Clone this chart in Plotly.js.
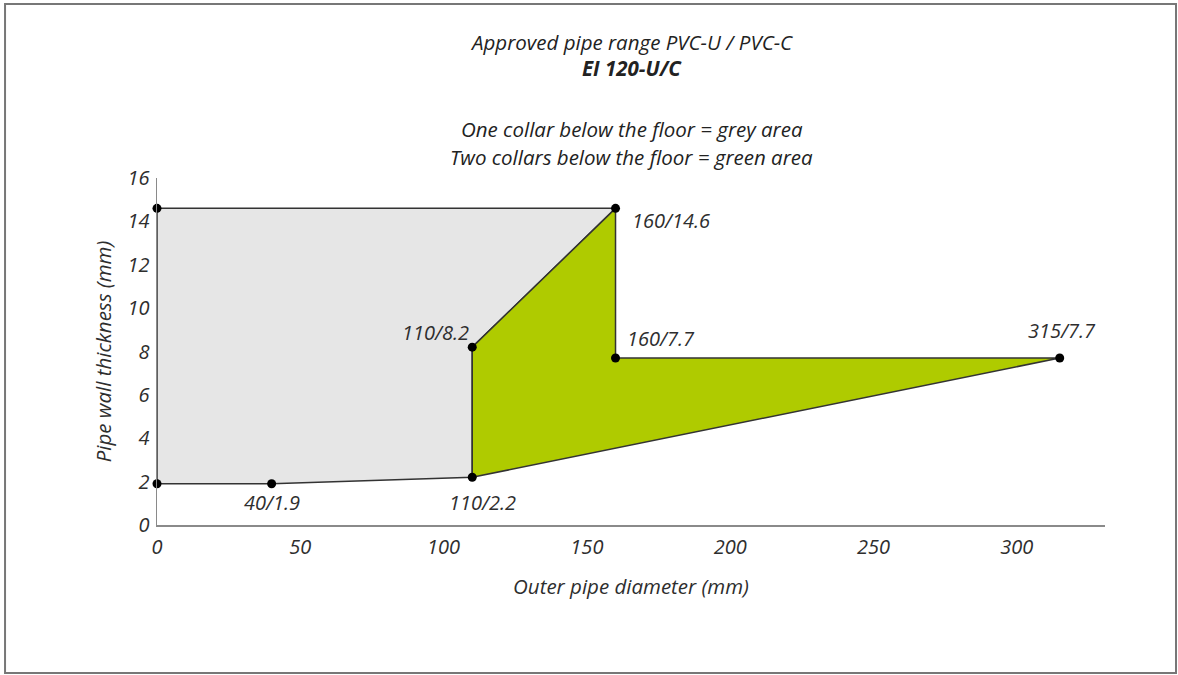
<!DOCTYPE html>
<html>
<head>
<meta charset="utf-8">
<script src="https://cdn.plot.ly/plotly-3.0.1.min.js"></script>
<style>html,body{margin:0;padding:0;background:#fff;}#chart{width:1178px;height:675px;}</style>
</head>
<body>
<div id="chart"></div>
<script>
// Grey area (one collar) outline
const greyX = [0, 40, 110, 110, 160, 0, 0];
const greyY = [1.9, 1.9, 2.2, 8.2, 14.6, 14.6, 1.9];
// Green area (two collars) outline
const greenX = [110, 110, 160, 160, 315, 110];
const greenY = [2.2, 8.2, 14.6, 7.7, 7.7, 2.2];
// Marked points
const ptX = [0, 0, 40, 110, 110, 160, 160, 315];
const ptY = [14.6, 1.9, 1.9, 2.2, 8.2, 14.6, 7.7, 7.7];
// Labelled points
const labX = [160, 110, 160, 315, 40, 110];
const labY = [14.6, 8.2, 7.7, 7.7, 1.9, 2.2];
const xTicks = [0, 50, 100, 150, 200, 250, 300];
const yTicks = [0, 2, 4, 6, 8, 10, 12, 14, 16];
const titleLines = [
  "Approved pipe range PVC-U / PVC-C",
  "<b>EI 120-U/C</b>",
  "One collar below the floor = grey area",
  "Two collars below the floor = green area"
];

const FONT = "Open Sans, Noto Sans, sans-serif";
const TXT = "#2e2e2e";
const lineCol = "#333333";
const FS = 20;

const traces = [
  {x: greyX, y: greyY, mode: "lines", fill: "toself", fillcolor: "#e6e6e6",
   line: {color: lineCol, width: 1.5}, hoverinfo: "skip", showlegend: false},
  {x: greenX, y: greenY, mode: "lines", fill: "toself", fillcolor: "#afcb00",
   line: {color: lineCol, width: 1.5}, hoverinfo: "skip", showlegend: false},
  {x: ptX, y: ptY, mode: "markers", marker: {color: "#000", size: 9},
   cliponaxis: false, showlegend: false}
];

// label offsets (pixel shifts) per labelled point
const labStyle = [
  {xanchor: "left", xshift: 14, yshift: -12},
  {xanchor: "right", xshift: -1, yshift: 15},
  {xanchor: "left", xshift: 9, yshift: 20},
  {xanchor: "center", xshift: 2, yshift: 28},
  {xanchor: "center", xshift: 0, yshift: -19},
  {xanchor: "center", xshift: 10, yshift: -25}
];
const annotations = labX.map((x, i) => Object.assign({
  x: x, y: labY[i], xref: "x", yref: "y", text: x + "/" + labY[i],
  showarrow: false, yanchor: "middle",
  font: {family: FONT, size: FS, color: TXT, style: "italic"}
}, labStyle[i]));

const titleY = [1.392, 1.317, 1.141, 1.061];
titleLines.forEach((t, i) => annotations.push({
  x: 0.501, y: titleY[i], xref: "paper", yref: "paper", text: t,
  showarrow: false, xanchor: "center", yanchor: "middle",
  font: {family: FONT, size: 20.5, color: "#222", style: "italic"}
}));

const axisFont = {family: FONT, size: FS, color: TXT, style: "italic"};
const layout = {
  width: 1178, height: 675,
  margin: {l: 157, r: 73, t: 178, b: 150, pad: 0},
  paper_bgcolor: "#fff", plot_bgcolor: "#fff",
  showlegend: false,
  xaxis: {
    range: [0, 330.8], tickvals: xTicks, ticktext: xTicks.map(String),
    showgrid: false, zeroline: false, showline: true, linecolor: "#8a8a8a", linewidth: 1.5,
    ticks: "", tickfont: axisFont, automargin: false, ticklabelstandoff: 3,
    title: {text: "Outer pipe diameter (mm)", font: {family: FONT, size: 20.5, color: TXT, style: "italic"}, standoff: 21}
  },
  yaxis: {
    range: [0, 16], tickvals: yTicks, ticktext: yTicks.map(String),
    showgrid: false, zeroline: false, showline: true, linecolor: "#8a8a8a", linewidth: 1.5,
    ticks: "", tickfont: axisFont, automargin: false, ticklabelstandoff: 2,
    title: {text: "Pipe wall thickness (mm)", font: {family: FONT, size: 20.5, color: TXT, style: "italic"}, standoff: 10}
  },
  annotations: annotations,
  shapes: [{type: "rect", xref: "paper", yref: "paper",
    x0: -0.1603, x1: 1.0749, y0: -0.4265, y1: 1.5014,
    line: {color: "#777", width: 2}, fillcolor: "rgba(0,0,0,0)", layer: "below"}]
};

Plotly.newPlot("chart", traces, layout, {displayModeBar: false, staticPlot: true});
</script>
</body>
</html>
